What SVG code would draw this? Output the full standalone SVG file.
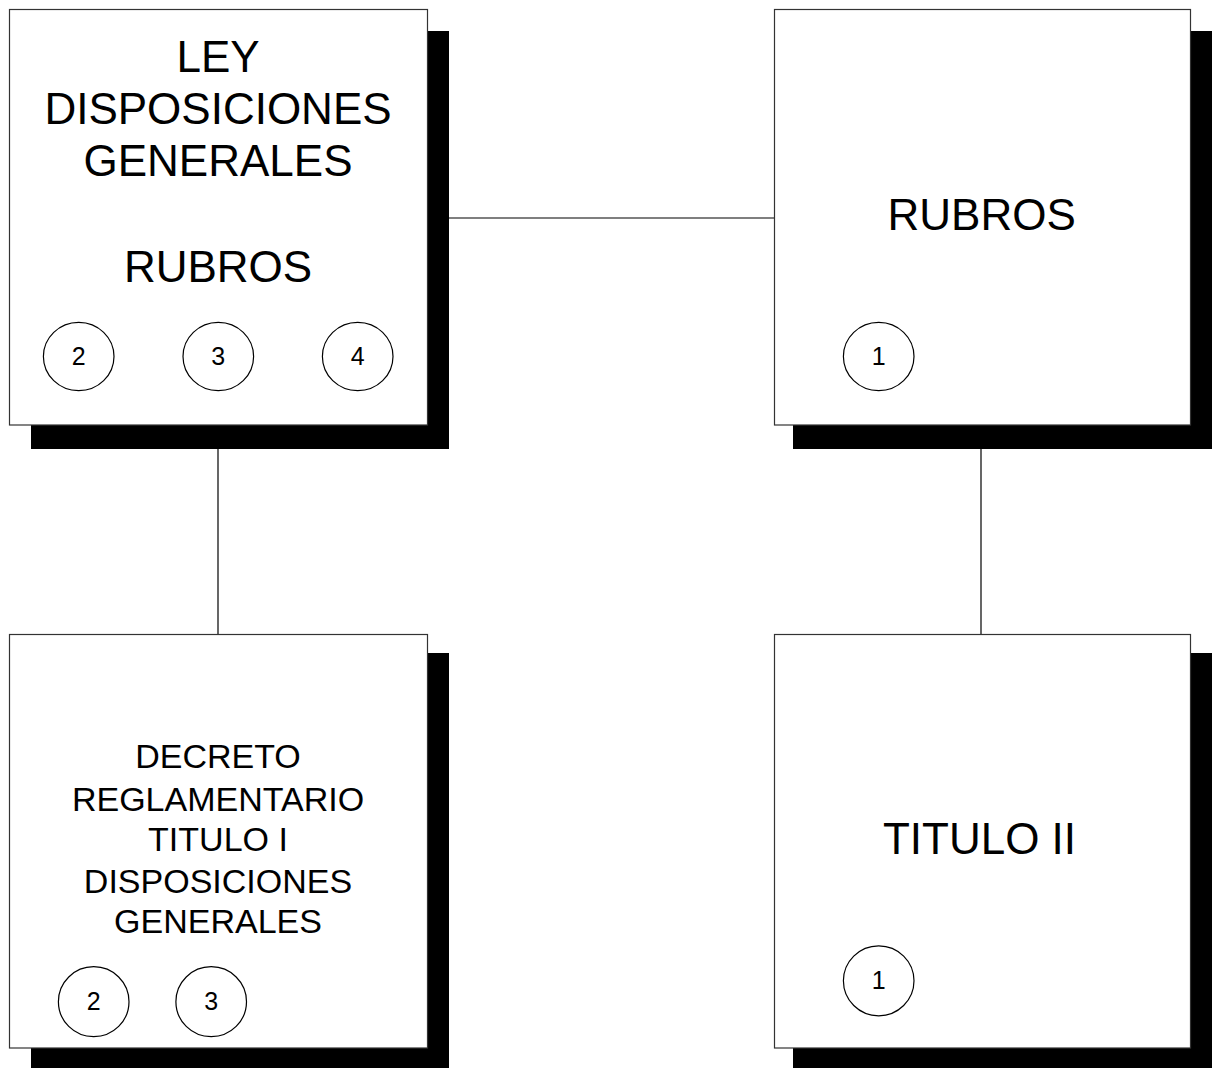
<svg xmlns="http://www.w3.org/2000/svg" width="1212" height="1068" viewBox="0 0 1212 1068">
<style>
.shadow{fill:#000}
.box{fill:#fff;stroke:#333;stroke-width:1.2}
.circ{fill:#fff;stroke:#000;stroke-width:1.2}
.conn{stroke:#000;stroke-width:1.2;fill:none}
text{font-family:"Liberation Sans",Arial,sans-serif;fill:#000;text-anchor:middle}
.big{font-size:44px}
.mid{font-size:34px}
.num{font-size:25px}
</style>
<rect width="1212" height="1068" fill="#fff"/>
<g id="connectors">
<line class="conn" x1="428" y1="218" x2="774" y2="218"/>
<line class="conn" x1="218" y1="425" x2="218" y2="634"/>
<line class="conn" x1="981" y1="425" x2="981" y2="634"/>
</g>
<g id="node-ley">
<rect class="shadow" x="31" y="31" width="418" height="418"/>
<rect class="box" x="9.5" y="9.5" width="418" height="415.5"/>
<text class="big" x="218" y="72">LEY</text>
<text class="big" x="218" y="124">DISPOSICIONES</text>
<text class="big" x="218" y="176">GENERALES</text>
<text class="big" x="218" y="282">RUBROS</text>
<ellipse class="circ" cx="78.7" cy="356.5" rx="35.3" ry="34.2"/>
<text class="num" x="78.7" y="365">2</text>
<ellipse class="circ" cx="218.3" cy="356.5" rx="35.3" ry="34.2"/>
<text class="num" x="218.3" y="365">3</text>
<ellipse class="circ" cx="357.7" cy="356.5" rx="35.3" ry="34.2"/>
<text class="num" x="357.7" y="365">4</text>
</g>
<g id="node-rubros">
<rect class="shadow" x="793" y="31" width="419" height="418"/>
<rect class="box" x="774.5" y="9.5" width="416" height="415.5"/>
<text class="big" x="981.7" y="230">RUBROS</text>
<ellipse class="circ" cx="878.7" cy="356.5" rx="35.3" ry="34.2"/>
<text class="num" x="878.7" y="365">1</text>
</g>
<g id="node-decreto">
<rect class="shadow" x="31" y="653" width="418" height="415"/>
<rect class="box" x="9.5" y="634.5" width="418" height="413.5"/>
<text class="mid" x="218" y="768">DECRETO</text>
<text class="mid" x="218" y="811">REGLAMENTARIO</text>
<text class="mid" x="218" y="851">TITULO I</text>
<text class="mid" x="218" y="893">DISPOSICIONES</text>
<text class="mid" x="218" y="933">GENERALES</text>
<ellipse class="circ" cx="93.7" cy="1001.7" rx="35.3" ry="35"/>
<text class="num" x="93.7" y="1010">2</text>
<ellipse class="circ" cx="211.2" cy="1001.7" rx="35.3" ry="35"/>
<text class="num" x="211.2" y="1010">3</text>
</g>
<g id="node-titulo2">
<rect class="shadow" x="793" y="653" width="419" height="415"/>
<rect class="box" x="774.5" y="634.5" width="416" height="413.5"/>
<text class="big" x="979.5" y="854">TITULO II</text>
<ellipse class="circ" cx="878.7" cy="980.8" rx="35.3" ry="35"/>
<text class="num" x="878.7" y="989">1</text>
</g>
</svg>
